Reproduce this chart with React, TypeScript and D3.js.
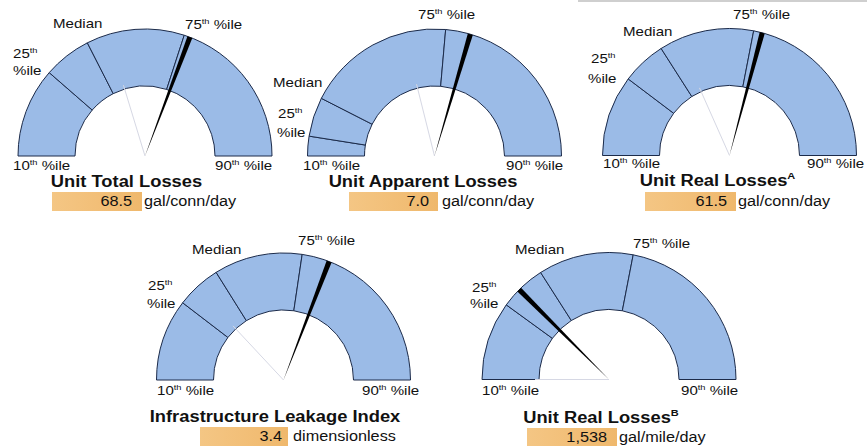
import React from "react";
import * as d3 from "d3";

// Benchmark gauges: each dial runs from the 10th percentile (left) to the 90th (right).
// Positions are expressed as the fraction of the dial (0 = 10th %ile, 1 = 90th %ile).
const gaugeTitles = [
  "Unit Total Losses",
  "Unit Apparent Losses",
  "Unit Real Losses",
  "Infrastructure Leakage Index",
  "Unit Real Losses",
];
const titleNotes = ["", "", "A", "", "B"];
const reportedValues = ["68.5", "7.0", "61.5", "3.4", "1,538"];
const valueUnits = ["gal/conn/day", "gal/conn/day", "gal/conn/day", "dimensionless", "gal/mile/day"];

const p25Pos = [0.228, 0.05, 0.206, 0.208, 0.2];
const medianPos = [0.35, 0.15, 0.319, 0.322, 0.319];
const p75Pos = [0.6, 0.528, 0.561, 0.547, 0.561];
const needlePos = [0.615, 0.591, 0.583, 0.617, 0.25];
const priorPos = [0.406, 0.422, 0.367, 0.261, 0.0];

// Layout of each panel: dial centre and label anchors
type Pt = [number, number];
interface Layout {
  c: Pt;
  median: Pt;
  p75: Pt;
  p25: Pt;
  p25b: Pt;
  p10: Pt;
  p90: Pt;
  title: Pt;
  box: [number, number, number, number];
  valueX: number;
  valueY: number;
  unitX: number;
}
const layouts: Layout[] = [
  { c: [145, 156], median: [53, 28], p75: [185, 29], p25: [13, 58], p25b: [13, 75], p10: [13, 170], p90: [215, 170], title: [126.5, 187], box: [52, 192, 90, 19], valueX: 132, valueY: 206, unitX: 144 },
  { c: [434.5, 156], median: [273, 87], p75: [418, 19], p25: [278, 118], p25b: [277, 137], p10: [303, 170], p90: [506, 170], title: [423, 187], box: [349, 192, 89, 19], valueX: 429, valueY: 206, unitX: 442 },
  { c: [729.5, 155.5], median: [623, 36], p75: [733, 19], p25: [591, 63], p25b: [588, 83], p10: [603, 168], p90: [807, 168], title: [717.5, 186], box: [645, 192, 91, 19], valueX: 727, valueY: 206, unitX: 738 },
  { c: [283.5, 380], median: [192, 254], p75: [298, 245], p25: [148, 290], p25b: [147, 308], p10: [157, 395], p90: [362, 395], title: [275, 422], box: [200, 427, 88, 19], valueX: 282, valueY: 441, unitX: 293 },
  { c: [609, 379.5], median: [515, 254], p75: [633, 248], p25: [472, 292], p25b: [470, 308], p10: [482, 395], p90: [681, 395], title: [601, 423], box: [527, 428, 90, 19], valueX: 607, valueY: 442, unitX: 619 },
];

const W = 867;
const H = 446;
const R_OUT = 127;
const R_IN = 70;
const SX = 1.16; // horizontal text stretch
const FILL = "#9bbbe7";
const EDGE = "#1c2b4a";
const FONT = "'Liberation Sans', Arial, sans-serif";

const angle = d3.scaleLinear().domain([0, 1]).range([-Math.PI / 2, Math.PI / 2]);
const arcGen = d3.arc<{ a0: number; a1: number }>()
  .innerRadius(R_IN)
  .outerRadius(R_OUT)
  .startAngle((d) => d.a0)
  .endAngle((d) => d.a1);

const polar = (a: number, r: number): Pt => [r * Math.sin(a), -r * Math.cos(a)];

function SText({ x, y, size, anchor = "start", weight = "normal", children }: { x: number; y: number; size: number; anchor?: string; weight?: string; children: React.ReactNode }) {
  return (
    <g transform={`translate(${x},${y}) scale(${SX},1)`}>
      <text x={0} y={0} fontSize={size} textAnchor={anchor as any} fontWeight={weight} fontFamily={FONT} fill="#111">
        {children}
      </text>
    </g>
  );
}

function Pct({ x, y, num }: { x: number; y: number; num: string }) {
  return (
    <SText x={x} y={y} size={13}>
      {num}
      <tspan fontSize={8} dy={-5}>th</tspan>
      <tspan dy={5}> %ile</tspan>
    </SText>
  );
}

function Gauge({ i }: { i: number }) {
  const L = layouts[i];
  const stops = [0, p25Pos[i], medianPos[i], p75Pos[i], 1];
  const segs = d3.pairs(stops).map(([s, e]) => ({ a0: angle(s), a1: angle(e) }));
  const na = angle(needlePos[i]);
  const tip = polar(na, R_OUT);
  const hw = 2.6;
  const perp: Pt = [Math.cos(na), Math.sin(na)];
  const needle = [
    [0, 0],
    [tip[0] + perp[0] * hw, tip[1] + perp[1] * hw],
    [tip[0] - perp[0] * hw, tip[1] - perp[1] * hw],
  ];
  const pa = angle(priorPos[i]);
  const pEnd = polar(pa, R_IN + 4);
  const [bx, by, bw, bh] = L.box;
  return (
    <g>
      <g transform={`translate(${L.c[0]},${L.c[1]})`}>
        {segs.map((s, k) => (
          <path key={k} d={arcGen(s) || ""} fill={FILL} stroke={EDGE} strokeWidth={1} />
        ))}
        <line x1={0} y1={0} x2={pEnd[0]} y2={pEnd[1]} stroke="#d6d8e4" strokeWidth={1} />
        <path d={d3.line()(needle as [number, number][]) + "Z"} fill="#000" />
      </g>
      <SText x={L.median[0]} y={L.median[1]} size={13}>Median</SText>
      <Pct x={L.p75[0]} y={L.p75[1]} num="75" />
      <SText x={L.p25[0]} y={L.p25[1]} size={13}>
        25<tspan fontSize={8} dy={-5}>th</tspan>
      </SText>
      <SText x={L.p25b[0]} y={L.p25b[1]} size={13}>%ile</SText>
      <Pct x={L.p10[0]} y={L.p10[1]} num="10" />
      <Pct x={L.p90[0]} y={L.p90[1]} num="90" />
      <SText x={L.title[0]} y={L.title[1]} size={15.8} anchor="middle" weight="bold">
        {gaugeTitles[i]}
        {titleNotes[i] && (
          <tspan fontSize={9.5} dy={-7}>{titleNotes[i]}</tspan>
        )}
      </SText>
      <rect x={bx} y={by} width={bw} height={bh} fill="url(#boxGrad)" />
      <SText x={L.valueX} y={L.valueY} size={14} anchor="end">{reportedValues[i]}</SText>
      <SText x={L.unitX} y={L.valueY} size={14}>{valueUnits[i]}</SText>
    </g>
  );
}

export default function App() {
  return (
    <svg
      width={W}
      height={H}
      viewBox={`0 0 ${W} ${H}`}
      style={{ position: "absolute", left: 0, top: 0, background: "#fff" }}
    >
      <defs>
        <linearGradient id="boxGrad" x1="0" x2="1" y1="0" y2="0">
          <stop offset="0%" stopColor="#f4c684" />
          <stop offset="50%" stopColor="#f2bf78" />
          <stop offset="100%" stopColor="#efb86c" />
        </linearGradient>
      </defs>
      <rect x={0} y={0} width={W} height={H} fill="#fff" />
      <line x1={578} y1={1} x2={W} y2={1} stroke="#cfcfcf" strokeWidth={2} />
      {gaugeTitles.map((_, i) => (
        <Gauge key={i} i={i} />
      ))}
    </svg>
  );
}
